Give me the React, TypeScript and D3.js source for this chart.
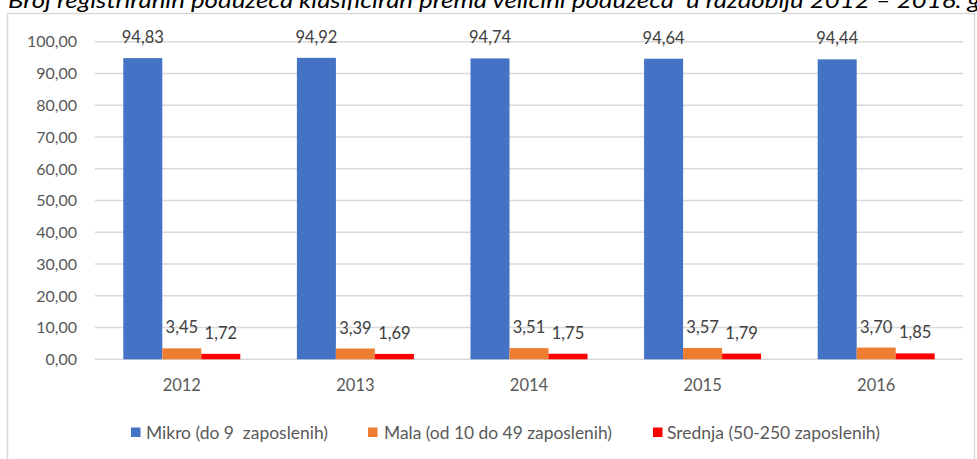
import React from "react";
import * as d3 from "d3";

const categories = ["2012", "2013", "2014", "2015", "2016"];
const seriesNames = [
  "Mikro (do 9  zaposlenih)",
  "Mala (od 10 do 49 zaposlenih)",
  "Srednja (50-250 zaposlenih)",
];
const mikro = [94.83, 94.92, 94.74, 94.64, 94.44];
const mala = [3.45, 3.39, 3.51, 3.57, 3.7];
const srednja = [1.72, 1.69, 1.75, 1.79, 1.85];
const yTicks = [0, 10, 20, 30, 40, 50, 60, 70, 80, 90, 100];
const colors = ["#4472C4", "#ED7D31", "#FF0000"];
const title =
  "Broj registriranih poduzeća klasificiran prema veličini poduzeća  u razdoblju 2012 – 2016. g";

const W = 977;
const H = 459;
const FONT = "Lato, 'Open Sans', sans-serif";
const fmt = (v: number) => v.toFixed(2).replace(".", ",");

export default function App() {
  const series = [mikro, mala, srednja];
  const x0 = d3.scaleBand<string>().domain(categories).range([95, 963]).paddingInner(0.326).paddingOuter(0.163);
  const x1 = d3.scaleBand<number>().domain([0, 1, 2]).range([0, x0.bandwidth()]).padding(0);
  const y = d3.scaleLinear().domain([0, 100]).range([359.3, 41.7]);

  const legendPos = [
    { sq: 131, tx: 146, len: 182 },
    { sq: 368, tx: 384, len: 228 },
    { sq: 653, tx: 667, len: 213 },
  ];

  return (
    <div style={{ position: "absolute", left: 0, top: 0 }}>
      <svg width={W} height={H} style={{ display: "block", fontFamily: FONT, whiteSpace: "pre" }}>
        <rect x={0} y={0} width={W} height={H} fill="#fff" />
        <text x={8} y={8} fontSize={22} fontStyle="italic" fill="#000" textLength={972} lengthAdjust="spacingAndGlyphs" style={{ whiteSpace: "pre" }}>
          {title}
        </text>
        <rect x={7.5} y={13.5} width={967} height={470} fill="none" stroke="#D9D9D9" strokeWidth={1.5} />
        {yTicks.map((t) => (
          <g key={t}>
            <line x1={95} x2={963} y1={y(t)} y2={y(t)} stroke="#D9D9D9" strokeWidth={1.6} />
            <text x={77} y={y(t)} dy="0.36em" textAnchor="end" fontSize={16} fill="#595959">
              {fmt(t)}
            </text>
          </g>
        ))}
        {categories.map((c, i) => (
          <g key={c} transform={`translate(${x0(c)},0)`}>
            {series.map((s, j) => (
              <g key={j}>
                <rect
                  x={x1(j)}
                  y={y(s[i])}
                  width={x1.bandwidth()}
                  height={y(0) - y(s[i])}
                  fill={colors[j]}
                />
                <text
                  x={(x1(j) as number) + x1.bandwidth() / 2}
                  y={y(s[i]) - 15}
                  textAnchor="middle"
                  fontSize={16.5}
                  fill="#404040"
                >
                  {fmt(s[i])}
                </text>
              </g>
            ))}
            <text x={x0.bandwidth() / 2} y={385} dy="0.36em" textAnchor="middle" fontSize={16.5} fill="#595959">
              {c}
            </text>
          </g>
        ))}
        {seriesNames.map((n, j) => (
          <g key={n}>
            <rect x={legendPos[j].sq} y={427.5} width={9.5} height={9.5} fill={colors[j]} />
            <text
              x={legendPos[j].tx}
              y={432.5}
              dy="0.36em"
              fontSize={17}
              fill="#595959"
              textLength={legendPos[j].len}
              lengthAdjust="spacingAndGlyphs"
              style={{ whiteSpace: "pre" }}
            >
              {n}
            </text>
          </g>
        ))}
      </svg>
    </div>
  );
}
